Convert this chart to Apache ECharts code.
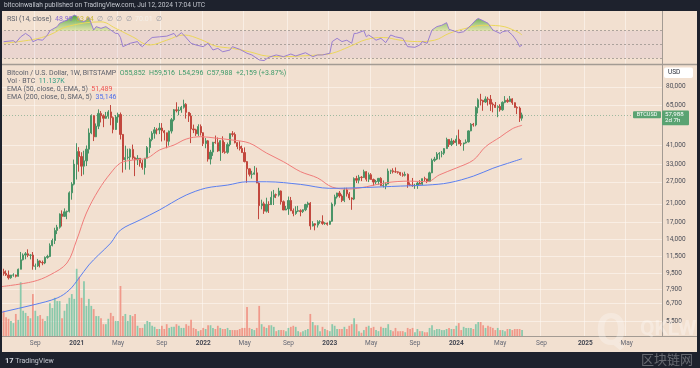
<!DOCTYPE html>
<html><head><meta charset="utf-8">
<script src="https://cdn.jsdelivr.net/npm/echarts/dist/echarts.min.js"></script>
<style>html,body{margin:0;padding:0;background:#1e222d}#c{width:700px;height:368px}</style>
</head><body><div id="c"></div>
<script>
// ---------- DATA (weekly BTCUSD, Bitstamp, from week of 2020-06-01) ----------
const startWeek = '2020-06-01';
const totalWeeks = 272; // includes empty future weeks shown on the axis

const open = [
9450,9660,9470,9300,9010,9290,9300,9160,9930,11070,
11680,11850,11650,11680,10280,10320,10920,10730,10670,11370,
11500,13030,13800,15480,16050,18680,18180,19150,19260,23800,
26270,33000,38150,36020,32270,34300,39200,47160,57500,45150,
51000,59000,57400,55800,57100,60000,56200,49100,56600,58200,
46400,34700,35600,35800,39100,35500,34700,35300,33500,31800,
35400,39900,43800,47000,48900,48800,49900,48300,47300,42900,
48200,54900,61500,60900,61300,63300,65500,59700,57300,49400,
48900,46700,50800,47300,41800,43100,35000,37900,42400,42200,
38400,43200,38000,37800,41300,46800,46400,42200,40400,39500,
37700,34000,31300,29400,29450,29900,26600,20550,21000,19300,
20850,20800,22600,23300,23180,24300,21500,19550,19800,21800,
19400,18800,19300,19400,19200,19600,20800,21150,16300,16700,
16450,17100,17100,16750,16850,16600,17200,20900,22700,23750,
22950,21800,24600,23500,22430,22150,28000,27480,28450,28330,
30300,27800,29250,27700,26900,27100,28080,25850,25900,26330,
30500,30600,30280,30250,30080,29300,29070,29400,26100,26000,
25850,25850,26600,26250,27980,27900,27150,29900,34500,35000,
37050,37400,37450,39450,43800,41300,43000,42250,43950,41700,
41600,42100,42600,48300,52100,51700,63100,68900,68400,67200,
69600,69300,65600,64950,63100,63900,61500,66950,68500,67500,
69650,66650,63200,62700,55852];
const high = [
10380,9990,9800,9790,9310,9480,9340,10010,12100,11900,
12090,12470,11800,12090,10600,11180,10990,10970,11490,11720,
13350,14100,15960,16500,18800,19470,19920,19420,24200,26870,
34800,41950,40100,37850,38500,40900,49700,58350,57500,52600,
61780,60600,58400,60000,61200,64900,57000,57900,59500,59600,
46600,40800,39400,39500,41300,36000,36600,35300,34600,35400,
40600,44700,48100,50500,50000,52900,52800,48800,47300,48500,
56000,62000,67000,63700,64300,69000,66300,59900,59200,51900,
49500,52100,52000,47500,44500,43500,38900,42600,45800,44800,
43400,45400,42500,42300,46900,48200,47500,42500,42900,40800,
40000,34200,31500,30600,32300,31700,26800,22000,21500,22500,
21600,24200,24600,23600,25200,24450,21800,20500,22800,22700,
19900,20400,20500,19700,19700,21000,21500,21400,17200,16800,
17400,17400,18400,17000,16950,17300,21300,23300,23800,24300,
23400,25200,25200,24000,22600,28400,28900,29200,28800,31000,
30500,30000,29800,28000,27600,28100,28450,27400,26800,31400,
31000,31500,31800,30400,30100,30000,30300,29700,26800,28200,
26400,27000,27500,28000,28600,27900,30300,35200,35900,37900,
37900,38400,39000,44700,44000,44400,43600,45900,49000,43500,
42200,43800,48600,52800,52900,64000,70100,73800,68900,71700,
71300,72800,66900,67200,64700,65500,67700,71900,70000,72000,
70200,66900,64000,63800,59516];
const low = [
9260,9230,9200,8830,8910,9120,9040,9140,9920,10980,
11130,11400,11120,9880,9870,10200,10140,10400,10530,11200,
11410,12900,13250,14840,15800,16200,18100,17600,19000,22000,
25900,27700,30300,28800,29300,32300,37300,46500,43000,45000,
49300,53200,50400,55500,55500,51500,47000,48800,53000,43800,
30000,31000,34800,31000,34800,28800,32700,32100,31000,29300,
35300,37500,42900,44200,46400,46600,42800,43300,39600,40800,
46900,53900,59700,57800,59400,62300,55600,53500,42000,47100,
45600,45600,45800,40600,39600,34000,32900,36300,41700,38000,
34300,37500,37200,37200,40500,45200,41900,39200,38600,37600,
33700,26700,28700,28000,29300,26600,17600,19700,18700,19000,
18900,20700,20700,22400,22800,20800,19600,19500,18500,19300,
18200,18500,19100,18200,18900,19300,20100,15600,16200,15500,
16000,16700,16500,16500,16350,16500,17100,20400,22300,22500,
21400,21400,22800,21900,19600,21900,26600,26500,27200,28200,
27100,26900,27700,25800,26300,26100,25700,25300,24800,26250,
29500,29700,29900,29600,28900,28600,28700,25200,25800,25500,
24900,24900,26200,26000,27200,26600,26900,29800,33900,34600,
34800,35700,36700,39400,40200,40600,41500,40700,41500,40600,
38500,41800,42300,48100,50700,50900,59000,64600,60800,66500,
64500,60700,59700,62800,56500,60200,60800,66300,66600,67500,
65100,62900,58500,53500,54296];
const close = [
9660,9470,9300,9010,9290,9300,9160,9930,11070,11680,
11850,11650,11680,10280,10320,10920,10730,10670,11370,11500,
13030,13800,15480,16050,18680,18180,19150,19260,23800,26270,
33000,38150,36020,32270,34300,39200,47160,57500,45150,51000,
59000,57400,55800,57100,60000,56200,49100,56600,58200,46400,
34700,35600,35800,39100,35500,34700,35300,33500,31800,35400,
39900,43800,47000,48900,48800,49900,48300,47300,42900,48200,
54900,61500,60900,61300,63300,65500,59700,57300,49400,48900,
46700,50800,47300,41800,43100,35000,37900,42400,42200,38400,
43200,38000,37800,41300,46800,46400,42200,40400,39500,37700,
34000,31300,29400,29450,29900,26600,20550,21000,19300,20850,
20800,22600,23300,23180,24300,21500,19550,19800,21800,19400,
18800,19300,19400,19200,19600,20800,21150,16300,16700,16450,
17100,17100,16750,16850,16600,17200,20900,22700,23750,22950,
21800,24600,23500,22430,22150,28000,27480,28450,28330,30300,
27800,29250,27700,26900,27100,28080,25850,25900,26330,30500,
30600,30280,30250,30080,29300,29070,29400,26100,26000,25850,
25850,26600,26250,27980,27900,27150,29900,34500,35000,37050,
37400,37450,39450,43800,41300,43000,42250,43950,41700,41600,
42100,42600,48300,52100,51700,63100,68900,68400,67200,69600,
69300,65600,64950,63100,63900,61500,66950,68500,67500,69650,
66650,63200,62700,55850,57988];
// volume, thousands of BTC
const volume = [
41,47,35,32,28,24,41,30,100,47,
43,37,33,78,47,37,39,32,28,37,
61,52,71,65,65,33,47,60,71,78,
69,125,110,71,102,56,69,56,50,37,
37,33,22,22,32,43,37,28,28,93,
37,41,28,39,37,41,19,15,15,22,
28,26,19,17,13,13,19,13,22,15,
17,17,22,19,15,15,22,19,30,15,
13,9,11,15,13,20,20,15,13,19,
15,13,13,15,11,11,11,11,13,15,
15,54,15,13,11,15,56,22,17,15,
20,20,17,9,11,11,11,9,15,17,
19,17,9,7,9,11,13,41,26,20,
20,9,17,13,11,9,22,19,13,13,
13,17,13,19,22,33,22,9,6,11,
17,19,15,17,11,9,17,15,15,22,
11,9,15,9,9,9,7,15,13,15,
7,13,9,9,7,7,15,20,11,13,
13,11,11,13,15,13,13,19,24,11,
17,15,15,15,13,22,26,26,20,15,
19,17,15,11,15,11,11,9,13,13,
11,13,13,13,11.137];
// [week index, value]
const ema50 = [[0,8140],[13,8620],[20,9300],[27,10660],[31,13870],[35,18890],[40,24560],[45,29840],[49,33450],[54,34600],[60,35400],[65,38800],[71,41100],[76,44000],[82,45200],[88,44500],[95,43500],[102,42000],[109,37500],[116,33950],[123,30300],[130,28200],[136,25400],[143,24850],[150,25500],[158,26700],[168,27200],[175,27000],[180,29200],[187,31600],[194,34600],[199,40300],[205,45000],[210,49500],[214,51489]];
const ema200 = [[0,6050],[1,6110],[13,6600],[23,7150],[28,7840],[32,8990],[36,10430],[40,11700],[45,13400],[49,15550],[57,17440],[65,19550],[70,21200],[76,23200],[84,25100],[93,26000],[101,27000],[109,27000],[123,26200],[135,25050],[150,25300],[164,25700],[175,26000],[184,26700],[194,28800],[202,31500],[208,33300],[214,35146]];
const rsi = [[1,53.8],[5,55.3],[6,52.4],[8,61],[10,66],[12,61],[13,53.8],[15,57],[17,56],[19,63.7],[20,70],[23,76],[24,81],[27,85.7],[30,93],[31,91.6],[32,85.7],[34,83],[35,85.7],[36,90],[38,71],[39,76],[41,73.5],[43,76],[45,71],[47,66],[48,66],[49,60],[50,46.5],[53,51.5],[56,54],[57,49],[58,46.5],[60,54],[62,60],[65,61],[68,62],[71,66],[72,61],[74,67],[75,63.7],[78,51.5],[80,49],[83,46.5],[85,51.5],[87,41.6],[89,44],[91,39],[94,41.6],[95,46.5],[98,42.6],[101,36.8],[103,34.3],[106,27],[108,26],[110,31],[113,34.3],[116,31.8],[119,35.7],[121,32.8],[125,37.6],[128,31.8],[130,34.3],[132,34.3],[135,36.8],[136,54],[138,58.8],[140,54],[142,56],[144,51.5],[145,66],[146,66],[149,70],[150,61],[151,63.7],[153,58.8],[154,56],[156,58.8],[158,52.4],[160,63.7],[162,61],[165,58.8],[167,46.5],[170,45.6],[172,49],[173,54],[175,51.5],[177,71],[179,76],[181,78],[183,81.8],[184,72],[187,68.5],[188,67],[190,68.5],[193,78],[195,85.7],[196,88],[198,84.7],[200,81],[202,71],[205,66],[206,68.5],[208,70],[210,63.7],[212,54],[213,46.5],[214,48.99]];
const rsiMA = [[1,51.5],[13,57],[20,64],[27,76],[41,83],[47,73.5],[54,61],[61,49],[68,56],[75,63.7],[82,57],[88,47.5],[95,44],[102,39],[109,32.8],[116,31.8],[123,32.8],[130,34.3],[136,36.8],[143,46.5],[150,57],[157,60],[164,56],[171,54],[178,56],[184,66],[191,73.5],[198,78],[205,77],[212,68.5],[214,63.64]];
const priceTicks = [5500,6700,7900,9500,11500,14000,17000,21000,27000,33000,41000,65000,80000];
const rsiTickLabels = [75,50,25];
const rsiLevels = [70,50,30];
// ---------------------------------------------------------------------------

const FONT = 'Roboto, "Noto Sans", sans-serif';
const UP = '#4a9467', DOWN = '#c2483e';
const VUP = 'rgba(120,196,164,0.85)', VDOWN = 'rgba(240,140,126,0.85)';
const BG = '#f2e0d0';
const GRIDLINE = 'rgba(255,250,244,0.55)';
const AXISLINE = '#a39b93';
const RSI_MIN = 21, RSI_MAX = 99;

const weeks = [];
const t0 = Date.parse(startWeek + 'T00:00:00Z');
for (let k = 0; k < totalWeeks; k++) weeks.push(new Date(t0 + k * 7 * 864e5).toISOString().slice(0, 10));
function isTick(v) {
  const d = new Date(v + 'T00:00:00Z');
  return d.getUTCDate() <= 7 && [0, 4, 8].includes(d.getUTCMonth());
}
function fmtTick(v) {
  const d = new Date(v + 'T00:00:00Z');
  const m = d.getUTCMonth();
  if (m === 0) return '{b|' + d.getUTCFullYear() + '}';
  return m === 4 ? 'May' : 'Sep';
}

const candles = open.map((o, i) => [o, close[i], low[i], high[i]]);
const vols = volume.map((v, i) => ({ value: v, itemStyle: { color: close[i] >= open[i] ? VUP : VDOWN } }));
const last = close[close.length - 1];

const chart = echarts.init(document.getElementById('c'));
const option = {
  animation: false,
  backgroundColor: BG,
  textStyle: { fontFamily: FONT },
  grid: [
    { left: 0, right: 38, top: 11, height: 53 },
    { left: 0, right: 38, top: 65, height: 271 }
  ],
  xAxis: [
    { type: 'category', gridIndex: 0, data: weeks, boundaryGap: true,
      axisLine: { show: false }, axisTick: { show: false }, axisLabel: { show: false },
      splitLine: { show: true, interval: (i, v) => isTick(v), lineStyle: { color: GRIDLINE } } },
    { type: 'category', gridIndex: 1, data: weeks, boundaryGap: true,
      axisLine: { show: true, onZero: false, lineStyle: { color: AXISLINE } }, axisTick: { show: false },
      axisLabel: { interval: (i, v) => isTick(v), formatter: fmtTick, fontSize: 6.5, color: '#666975', margin: 4, fontFamily: FONT,
        rich: { b: { fontWeight: 'bold', fontSize: 6.5, color: '#444752', fontFamily: FONT } } },
      splitLine: { show: true, interval: (i, v) => isTick(v), lineStyle: { color: GRIDLINE } } }
  ],
  yAxis: [
    { type: 'value', gridIndex: 0, position: 'right', min: RSI_MIN, max: RSI_MAX,
      axisLine: { show: true, onZero: false, lineStyle: { color: AXISLINE } }, axisTick: { show: false },
      axisLabel: { show: false }, splitLine: { show: false } },
    { type: 'log', gridIndex: 1, position: 'right', min: 4630, max: 102600,
      axisLine: { show: true, onZero: false, lineStyle: { color: AXISLINE } }, axisTick: { show: false },
      axisLabel: { show: false }, splitLine: { show: false } },
    { type: 'value', gridIndex: 1, min: 0, max: 504, show: false, splitLine: { show: false } }
  ],
  series: [
    { id: 'rsiFill', type: 'line', xAxisIndex: 0, yAxisIndex: 0, data: rsi, symbol: 'none', silent: true,
      lineStyle: { width: 0 }, areaStyle: { color: 'rgba(0,0,0,0)', opacity: 1 }, z: 1 },
    { id: 'rsi', type: 'line', xAxisIndex: 0, yAxisIndex: 0, data: rsi, symbol: 'none', silent: true,
      lineStyle: { color: '#9a7fd1', width: 1 }, z: 4,
      markArea: { silent: true, itemStyle: { color: 'rgba(150,110,200,0.09)' }, data: [[{ yAxis: 30 }, { yAxis: 70 }]] },
      markLine: { silent: true, symbol: 'none', z: 1,
        data: rsiLevels.map(v => ({ yAxis: v, lineStyle: { color: '#9c958f', type: [2, 2], width: 1, opacity: 0.8 }, label: { show: false } }))
          .concat(rsiTickLabels.map(v => ({ yAxis: v, lineStyle: { opacity: 0 },
            label: { show: true, position: 'end', distance: 4, formatter: v.toFixed(2), fontSize: 6.5, color: '#4c4f59', fontFamily: FONT } }))) } },
    { id: 'rsiMA', type: 'line', xAxisIndex: 0, yAxisIndex: 0, data: rsiMA, symbol: 'none', silent: true, smooth: 0.4,
      lineStyle: { color: '#ecd75a', width: 1 }, z: 3 },
    { id: 'vol', type: 'bar', xAxisIndex: 1, yAxisIndex: 2, data: vols, barWidth: '72%', silent: true, z: 1 },
    { id: 'candles', type: 'candlestick', xAxisIndex: 1, yAxisIndex: 1, data: candles, barWidth: '70%', silent: true, z: 3,
      itemStyle: { color: UP, color0: DOWN, borderColor: UP, borderColor0: DOWN, borderWidth: 1 },
      markLine: { silent: true, symbol: 'none', z: 2,
        data: [{ yAxis: last, lineStyle: { color: '#7aa88a', type: [1, 2], width: 1, opacity: 0.7 }, label: { show: false } }] } },
    { id: 'ema50', type: 'line', xAxisIndex: 1, yAxisIndex: 1, data: ema50, symbol: 'none', silent: true, smooth: 0.35,
      lineStyle: { color: '#f07c7a', width: 1 }, z: 4 },
    { id: 'ema200', type: 'line', xAxisIndex: 1, yAxisIndex: 1, data: ema200, symbol: 'none', silent: true, smooth: 0.35,
      lineStyle: { color: '#5b7ff0', width: 1 }, z: 4,
      markLine: { silent: true, symbol: 'none', z: 1,
        data: priceTicks.map(v => ({ yAxis: v })),
        lineStyle: { color: GRIDLINE, type: 'solid', width: 1 },
        label: { show: true, position: 'end', distance: 4, fontSize: 6.5, color: '#4c4f59', fontFamily: FONT,
          formatter: p => Number(p.value).toLocaleString('en-US') } } }
  ]
};
chart.setOption(option);

// green fill of the RSI above its 70 level, placed with the RSI axis scale
const yTop = chart.convertToPixel({ yAxisIndex: 0 }, RSI_MAX);
const yBot = chart.convertToPixel({ yAxisIndex: 0 }, RSI_MIN);
const y70 = chart.convertToPixel({ yAxisIndex: 0 }, 70);
const y90 = chart.convertToPixel({ yAxisIndex: 0 }, 90);
const off70 = (y70 - yTop) / (yBot - yTop), off90 = (y90 - yTop) / (yBot - yTop);
chart.setOption({ series: [{ id: 'rsiFill', areaStyle: { opacity: 1, color: new echarts.graphic.LinearGradient(0, yTop, 0, yBot, [
  { offset: 0, color: 'rgba(30,130,45,0.95)' },
  { offset: off90, color: 'rgba(70,160,60,0.85)' },
  { offset: off70, color: 'rgba(205,228,140,0.55)' },
  { offset: off70 + 0.001, color: 'rgba(0,0,0,0)' },
  { offset: 1, color: 'rgba(0,0,0,0)' }
], true) } }] });

const yLast = chart.convertToPixel({ yAxisIndex: 1 }, last);
const legendRich = {
  g: { fill: '#5d606b', fontFamily: FONT, fontSize: 7 },
  gr: { fill: '#3d9a6a', fontFamily: FONT, fontSize: 7 },
  te: { fill: '#2f9e84', fontFamily: FONT, fontSize: 7 },
  r: { fill: '#ef5350', fontFamily: FONT, fontSize: 7 },
  bl: { fill: '#4f6fec', fontFamily: FONT, fontSize: 7 },
  p: { fill: '#8a6cd0', fontFamily: FONT, fontSize: 7 },
  y: { fill: '#c9b83a', fontFamily: FONT, fontSize: 7 },
  f: { fill: '#9a9ca5', fontFamily: FONT, fontSize: 7 },
  w: { fill: '#f4efe8', fontFamily: FONT, fontSize: 7 }
};
const txt = (id, x, y, text, extra) => Object.assign({ id, type: 'text', x, y, z: 120, silent: true,
  style: Object.assign({ text, fontFamily: FONT, fontSize: 7, verticalAlign: 'middle', rich: legendRich }, extra || {}) });

chart.setOption({ graphic: [
  { id: 'hdr', type: 'rect', shape: { x: 0, y: 0, width: 700, height: 11 }, style: { fill: '#1e222d' }, z: 100, silent: true },
  { id: 'ftr', type: 'rect', shape: { x: 0, y: 352, width: 700, height: 16 }, style: { fill: '#1e222d' }, z: 100, silent: true },
  { id: 'bl', type: 'rect', shape: { x: 0, y: 0, width: 2, height: 368 }, style: { fill: '#1e222d' }, z: 100, silent: true },
  { id: 'br', type: 'rect', shape: { x: 697, y: 0, width: 3, height: 368 }, style: { fill: '#1e222d' }, z: 100, silent: true },
  { id: 'sep', type: 'line', shape: { x1: 2, y1: 64.5, x2: 697, y2: 64.5 }, style: { stroke: '#a39b93', lineWidth: 1.5 }, z: 110, silent: true },
  { id: 'bot', type: 'line', shape: { x1: 662, y1: 336.5, x2: 697, y2: 336.5 }, style: { stroke: AXISLINE, lineWidth: 1 }, z: 110, silent: true },
  txt('pub', 4, 5.5, 'bitcoinwallah published on TradingView.com, Jul 12, 2024 17:04 UTC', { fill: '#c3c6ce', fontSize: 6.6 }),
  txt('rsiL', 7, 19, '{g|RSI (14, close)}  {p|48.99}  {y|63.64}  {f|∅  ∅  ∅  ∅}  {w|70.01}  {f|∅}'),
  txt('l1', 7, 73.5, '{g|Bitcoin / U.S. Dollar, 1W, BITSTAMP}  {gr|O55,852  H59,516  L54,296  C57,988  +2,159 (+3.87%)}'),
  txt('l2', 7, 81.5, '{g|Vol · BTC}  {te|11.137K}'),
  txt('l3', 7, 89.5, '{g|EMA (50, close, 0, EMA, 5)}  {r|51,489}'),
  txt('l4', 7, 97.5, '{g|EMA (200, close, 0, SMA, 5)}  {bl|35,146}'),
  { id: 'usd', type: 'rect', shape: { x: 664, y: 67.5, width: 29, height: 10.5, r: 2 }, style: { fill: '#ffffff' }, z: 110, silent: true },
  txt('usdT', 668, 72.8, 'USD', { fill: '#2a2e39', fontSize: 6.5 }),
  { id: 'tag1', type: 'rect', shape: { x: 633, y: yLast - 3.6, width: 28, height: 7, r: 1 }, style: { fill: '#5aa372' }, z: 110, silent: true },
  txt('tag1T', 647, yLast - 0.1, 'BTCUSD', { fill: '#ffffff', fontSize: 5.5, align: 'center' }),
  { id: 'tag2', type: 'rect', shape: { x: 662, y: yLast - 4.3, width: 27, height: 14.6, r: 1 }, style: { fill: '#5aa372' }, z: 110, silent: true },
  txt('tag2a', 665, yLast - 0.8, '57,988', { fill: '#ffffff', fontSize: 6.2 }),
  txt('tag2b', 665, yLast + 6, '2d 7h', { fill: '#ffffff', fontSize: 6.2 }),
  txt('tv', 5, 361, '{t|17} TradingView', { fill: '#c3c6ce', fontSize: 7, rich: { t: { fill: '#d8dbe2', fontSize: 7.5, fontWeight: 'bold', fontFamily: FONT } } }),
  txt('wmQ', 596, 334, 'Q', { fill: 'rgba(255,255,255,0.28)', fontSize: 44, fontWeight: 'bold' }),
  txt('wm1', 640, 330, 'QKLW', { fill: 'rgba(255,255,255,0.3)', fontSize: 21, fontWeight: 'bold' }),
  txt('wm2', 641, 359, '区块链网', { fill: 'rgba(255,255,255,0.32)', fontSize: 13, fontFamily: '"Noto Sans CJK SC", sans-serif' })
] });
</script></body></html>
